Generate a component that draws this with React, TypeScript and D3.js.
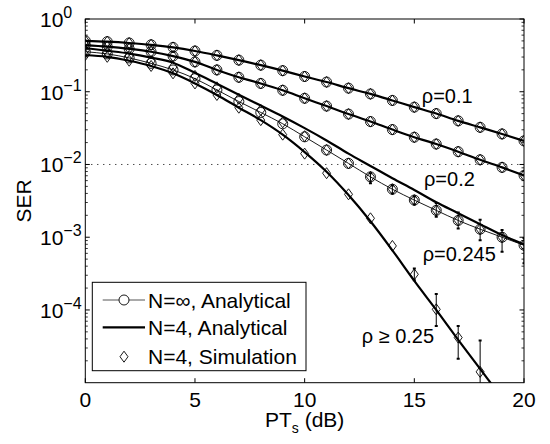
import React from 'react';
import * as d3 from 'd3';

// PT_s (dB)
const snrDb = [0, 1, 2, 3, 4, 5, 6, 7, 8, 9, 10, 11, 12, 13, 14, 15, 16, 17, 18, 19, 20];

// Analytical SER curves
const serRho01 = [0.501, 0.488, 0.468, 0.442, 0.407, 0.363, 0.316, 0.272, 0.232, 0.195, 0.162, 0.136, 0.112, 0.0933, 0.0759, 0.0614, 0.0501, 0.0398, 0.0324, 0.0263, 0.0211];
const serRho02 = [0.4385, 0.417, 0.389, 0.355, 0.309, 0.257, 0.1995, 0.158, 0.130, 0.1047, 0.0813, 0.0635, 0.0493, 0.0389, 0.0302, 0.0237, 0.0191, 0.0150, 0.0116, 0.00912, 0.00708];
const serRho0245N4 = [0.398, 0.366, 0.335, 0.295, 0.251, 0.182, 0.129, 0.0912, 0.0646, 0.0457, 0.0316, 0.0214, 0.0141, 0.00955, 0.00646, 0.00447, 0.00302, 0.00214, 0.00151, 0.00107, 0.000794];
const serRho0245Inf = [0.3548, 0.3311, 0.2917, 0.2455, 0.1995, 0.1514, 0.1059, 0.0733, 0.0519, 0.0363, 0.0240, 0.0158, 0.01035, 0.00676, 0.00457, 0.00324, 0.00234, 0.00170, 0.00129, 0.00100, 0.000776];
const serRho025N4 = [0.320, 0.302, 0.267, 0.226, 0.179, 0.130, 0.0902, 0.0603, 0.0407, 0.0257, 0.0148, 0.00794, 0.00380, 0.00166, 0.000661, 0.000251, 0.0001, 0.0000389, 0.0000155, 0.00000617, 0.0000025];

// Simulation (N=4)
const simRho01 = [0.501, 0.488, 0.468, 0.442, 0.407, 0.363, 0.316, 0.272, 0.232, 0.195, 0.162, 0.136, 0.112, 0.0933, 0.0759, 0.0614, 0.0501, 0.0398, 0.0324, 0.0263, 0.0211];
const simRho02 = [0.4385, 0.417, 0.389, 0.355, 0.309, 0.257, 0.1995, 0.158, 0.130, 0.1047, 0.0813, 0.0635, 0.0493, 0.0389, 0.0302, 0.0237, 0.0191, 0.0150, 0.0116, 0.00912, 0.00708];
const simRho0245 = [0.372, 0.345, 0.310, 0.265, 0.220, 0.165, 0.115, 0.080, 0.0560, 0.0380, 0.0245, 0.0158, 0.01035, 0.00676, 0.00457, 0.00324, 0.00234, 0.00170, 0.00129, 0.00100, 0.000776];
const simRho025 = [0.320, 0.302, 0.267, 0.226, 0.179, 0.130, 0.0902, 0.0603, 0.0407, 0.0257, 0.0141, 0.00759, 0.00389, 0.00182, 0.000759, 0.000309, 0.000102, 0.0000417, 0.0000141];

// Error bars: [snr, high, low]
const errRho0245: [number, number, number][] = [
  [13, 0.00759, 0.0055], [14, 0.00513, 0.00398], [15, 0.00363, 0.00282], [16, 0.00295, 0.00191],
  [17, 0.00219, 0.00132], [18, 0.00174, 0.000912], [19, 0.00126, 0.000631], [20, 0.000977, 0.000437],
];
const errRho025: [number, number, number][] = [
  [15, 0.000372, 0.000257], [16, 0.000166, 0.0000603], [17, 0.0000603, 0.0000214], [18, 0.000038, 0.000005],
];

const xTicks = [0, 5, 10, 15, 20];
const yDecades = [0, -1, -2, -3, -4];
const curveLabels = [
  { text: 'ρ=0.1', x: 15.34, y: 0.0698 },
  { text: 'ρ=0.2', x: 15.44, y: 0.00505 },
  { text: 'ρ=0.245', x: 15.38, y: 0.000469 },
  { text: 'ρ ≥ 0.25', x: 12.6, y: 0.0000349 },
];

const W = 550, H = 444;
const L = 85.3, R = 524, T = 19, B = 382.7;
const FONT = "'Liberation Sans', Arial, Helvetica, sans-serif";

export default function App() {
  const x = d3.scaleLinear().domain([0, 20]).range([L, R]);
  const y = d3.scaleLog().domain([1e-5, 1]).range([B, T]);

  const line = (vals: number[]) =>
    d3.line<number>()
      .x((_, i) => x(snrDb[i]))
      .y((v) => y(v))
      .curve(d3.curveMonotoneX)(vals) as string;

  const diamond = 'M0,-5.5L4,0L0,5.5L-4,0Z';

  const minor: number[] = [];
  for (let e = -5; e < 0; e++) for (let m = 2; m <= 9; m++) minor.push(m * Math.pow(10, e));

  const circles = (vals: number[], key: string) =>
    vals.map((v, i) => (
      <circle key={key + i} cx={x(snrDb[i])} cy={y(v)} r={5} fill="none" stroke="#000" strokeWidth={0.9} />
    ));
  const diamonds = (vals: number[], key: string) =>
    vals.map((v, i) => (
      <path key={key + i} d={diamond} transform={`translate(${x(snrDb[i])},${y(v)})`} fill="none" stroke="#000" strokeWidth={0.9} />
    ));
  const errBars = (arr: [number, number, number][], key: string) =>
    arr.map(([s, hi, lo], i) => (
      <g key={key + i} stroke="#000" strokeWidth={1}>
        <line x1={x(s)} x2={x(s)} y1={y(hi)} y2={y(lo)} />
        <line x1={x(s) - 1.5} x2={x(s) + 1.5} y1={y(hi)} y2={y(hi)} strokeWidth={2} />
        <line x1={x(s) - 1.5} x2={x(s) + 1.5} y1={y(lo)} y2={y(lo)} strokeWidth={2} />
      </g>
    ));

  return (
    <svg width={W} height={H} style={{ position: 'absolute', left: 0, top: 0, background: '#fff' }} fontFamily={FONT}>
      <defs>
        <clipPath id="plot">
          <rect x={L} y={T} width={R - L} height={B - T} />
        </clipPath>
      </defs>
      <rect x={0} y={0} width={W} height={H} fill="#fff" />

      {/* dotted reference line at 1e-2 */}
      <line x1={L} x2={R} y1={y(1e-2)} y2={y(1e-2)} stroke="#000" strokeWidth={1} strokeDasharray="1,5" />

      <g clipPath="url(#plot)">
        <path d={line(serRho01)} fill="none" stroke="#000" strokeWidth={2.2} />
        <path d={line(serRho02)} fill="none" stroke="#000" strokeWidth={2.2} />
        <path d={line(serRho0245N4)} fill="none" stroke="#000" strokeWidth={2.2} />
        <path d={line(serRho0245Inf)} fill="none" stroke="#000" strokeWidth={0.9} />
        <path d={line(serRho025N4)} fill="none" stroke="#000" strokeWidth={2.2} />
        {errBars(errRho0245, 'ea')}
        {errBars(errRho025, 'eb')}
        {circles(serRho01, 'c1')}
        {circles(serRho02, 'c2')}
        {circles(serRho0245Inf, 'c3')}
        {diamonds(simRho01, 'd1')}
        {diamonds(simRho02, 'd2')}
        {diamonds(simRho0245, 'd3')}
        {diamonds(simRho025, 'd4')}
      </g>

      {/* axes box */}
      <rect x={L} y={T} width={R - L} height={B - T} fill="none" stroke="#000" strokeWidth={1} />
      {xTicks.map((t) => (
        <g key={'xt' + t}>
          <line x1={x(t)} x2={x(t)} y1={B} y2={B - 4.5} stroke="#000" />
          <line x1={x(t)} x2={x(t)} y1={T} y2={T + 4.5} stroke="#000" />
          <text x={x(t)} y={407} textAnchor="middle" fontSize={21}>{t}</text>
        </g>
      ))}
      {yDecades.map((e) => {
        const ty = y(Math.pow(10, e));
        return (
          <g key={'yt' + e}>
            <line x1={L} x2={L + 4.5} y1={ty} y2={ty} stroke="#000" />
            <line x1={R} x2={R - 4.5} y1={ty} y2={ty} stroke="#000" />
            <text x={40} y={ty + 8} fontSize={21}>
              10
              <tspan fontSize={16} dy={-9}>{e === 0 ? '0' : '\u2212' + Math.abs(e)}</tspan>
            </text>
          </g>
        );
      })}
      {minor.map((v, i) => (
        <g key={'mn' + i}>
          <line x1={L} x2={L + 2.5} y1={y(v)} y2={y(v)} stroke="#000" strokeWidth={0.8} />
          <line x1={R} x2={R - 2.5} y1={y(v)} y2={y(v)} stroke="#000" strokeWidth={0.8} />
        </g>
      ))}

      {/* axis labels */}
      <text x={(L + R) / 2} y={427} textAnchor="middle" fontSize={21}>
        PT<tspan fontSize={14} dy={6}>s</tspan><tspan dy={-6}> (dB)</tspan>
      </text>
      <text transform={`translate(31,${(T + B) / 2}) rotate(-90)`} textAnchor="middle" fontSize={21}>SER</text>

      {/* curve labels */}
      {curveLabels.map((c) => (
        <text key={c.text} x={x(c.x)} y={y(c.y)} fontSize={20}>{c.text}</text>
      ))}

      {/* legend */}
      <g>
        <rect x={92.3} y={282.3} width={213.7} height={88.4} fill="#fff" stroke="#000" strokeWidth={1} />
        <line x1={102.7} x2={145} y1={300} y2={300} stroke="#555" strokeWidth={1} />
        <circle cx={124} cy={300} r={5} fill="#fff" stroke="#000" strokeWidth={0.9} />
        <text x={148} y={308} fontSize={21}>N=∞, Analytical</text>
        <line x1={102.7} x2={145} y1={327.3} y2={327.3} stroke="#000" strokeWidth={2.2} />
        <text x={148} y={335} fontSize={21}>N=4, Analytical</text>
        <path d={diamond} transform="translate(124,356.7)" fill="none" stroke="#000" strokeWidth={0.9} />
        <text x={148} y={363.5} fontSize={21}>N=4, Simulation</text>
      </g>
    </svg>
  );
}
